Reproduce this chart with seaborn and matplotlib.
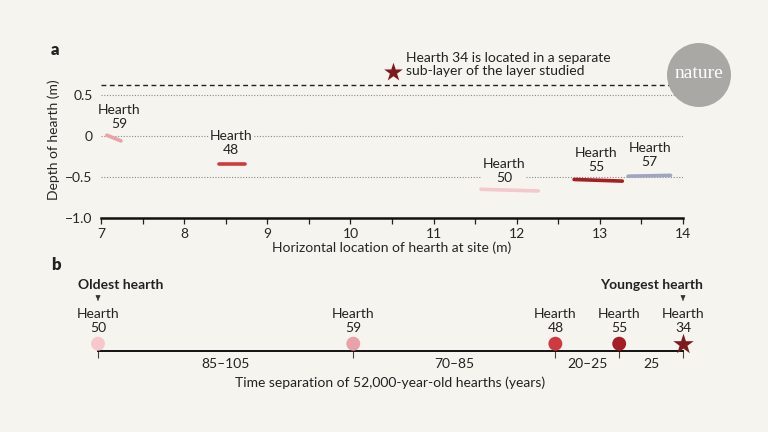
import numpy as np
import pandas as pd
import matplotlib
matplotlib.use('Agg')
import matplotlib.pyplot as plt
from matplotlib.patches import Ellipse
import seaborn as sns

# ---- data: panel a (hearth positions, m) ----
hearths = ['59', '48', '50', '55', '57']
x_start = [7.07, 8.42, 11.57, 12.69, 13.34]
x_end = [7.24, 8.73, 12.26, 13.27, 13.85]
y_start = [0.01, -0.34, -0.65, -0.53, -0.49]
y_end = [-0.06, -0.34, -0.67, -0.55, -0.48]
hearth34_xy = (10.51, 0.78)
sublayer_depth = 0.62
grid_depths = [0.5, 0.0, -0.5]

# ---- data: panel b (timeline) ----
order = ['50', '59', '48', '55', '34']
time_pos = [0, 96, 172, 196, 220]
gap_labels = ['85–105', '70–85', '20–25', '25']

palette = {'59': '#e9a1aa', '48': '#cf3a40', '50': '#f6c7cc',
           '55': '#a61e25', '57': '#a0a6bf', '34': '#7d1a1c'}

BG = '#f6f4ee'
sns.set_theme(style='white')
plt.rcParams['font.family'] = ['Lato', 'DejaVu Sans']
plt.rcParams['axes.facecolor'] = BG
plt.rcParams['figure.facecolor'] = BG
plt.rcParams['text.color'] = '#222222'
FS = 10

fig = plt.figure(figsize=(7.68, 4.32), dpi=100)

# ================= panel a =================
ax = fig.add_axes([101 / 768, 1 - 218 / 432, 582 / 768, 155.8 / 432])
ax.set_facecolor(BG)

rows = []
for h, xs, xe, ys, ye in zip(hearths, x_start, x_end, y_start, y_end):
    rows.append({'hearth': h, 'x': xs, 'y': ys})
    rows.append({'hearth': h, 'x': xe, 'y': ye})
seg = pd.DataFrame(rows)

for d in grid_depths:
    ax.axhline(d, color='#8a8a8a', lw=0.8, ls=(0, (1, 1.5)), zorder=1)
ax.axhline(sublayer_depth, color='#222222', lw=1.0, ls=(0, (3.5, 2.5)), zorder=1)

sns.lineplot(data=seg, x='x', y='y', hue='hearth', palette=palette,
             estimator=None, sort=False, lw=2.6, legend=False, ax=ax, zorder=3)

label_pos = {'59': (7.22, 0.07), '48': (8.56, -0.245), '50': (11.85, -0.58),
             '55': (12.96, -0.457), '57': (13.6, -0.39)}
for h in hearths:
    lx, ly = label_pos[h]
    ax.text(lx, ly, f'Hearth\n{h}', ha='center', va='bottom', fontsize=FS,
            linespacing=1.2, zorder=4,
            bbox=dict(boxstyle='square,pad=0.05', fc=BG, ec='none'))

ax.scatter([hearth34_xy[0]], [hearth34_xy[1]], marker='*', s=200,
           color=palette['34'], clip_on=False, zorder=4, linewidths=0)
ax.text(10.67, 0.87, 'Hearth 34 is located in a separate\nsub-layer of the layer studied',
        ha='left', va='center', fontsize=FS, linespacing=1.15, clip_on=False)

ax.set_xlim(7, 14)
ax.set_ylim(-1.0, 0.9)
ax.set_xticks(np.arange(7, 14.01, 0.5))
ax.set_xticklabels([f'{v:g}' if v == int(v) else '' for v in np.arange(7, 14.01, 0.5)],
                   fontsize=FS)
ax.set_yticks([-1.0, -0.5, 0, 0.5])
ax.set_yticklabels(['−1.0', '−0.5', '0', '0.5'], fontsize=FS)
ax.tick_params(axis='x', direction='out', length=4, width=0.9, color='#222222',
               pad=3, bottom=True)
ax.tick_params(axis='y', length=0, pad=6)
for s in ['top', 'right', 'left']:
    ax.spines[s].set_visible(False)
ax.spines['bottom'].set_linewidth(1.8)
ax.spines['bottom'].set_color('#111111')
ax.set_xlabel('Horizontal location of hearth at site (m)', fontsize=FS, labelpad=1)
ax.set_ylabel('Depth of hearth (m)', fontsize=FS, labelpad=4)

# ================= panel b =================
ax2 = fig.add_axes([98 / 768, 1 - 400 / 432, 585 / 768, 140 / 432])
ax2.set_facecolor('none')
ax2.set_xlim(0, 220)
ax2.set_ylim(-49, 91)

tl = pd.DataFrame({'hearth': order, 'pos': time_pos,
                   'y': [7.3] * len(order),
                   'kind': ['dot', 'dot', 'dot', 'dot', 'star']})
sns.scatterplot(data=tl[tl['kind'] == 'dot'], x='pos', y='y', hue='hearth',
                palette=palette, s=100, linewidth=0, legend=False, ax=ax2,
                clip_on=False, zorder=3)
sns.scatterplot(data=tl[tl['kind'] == 'star'], x='pos', y='y', hue='hearth',
                palette=palette, marker='*', s=240, linewidth=0, legend=False,
                ax=ax2, clip_on=False, zorder=3)

for h, p in zip(order, time_pos):
    ax2.text(p, 17.5, f'Hearth\n{h}', ha='center', va='bottom', fontsize=FS,
             linespacing=1.2)

for i, g in enumerate(gap_labels):
    mid = (time_pos[i] + time_pos[i + 1]) / 2
    ax2.text(mid, -13.5, g, ha='center', va='center', fontsize=FS)

ax2.text(110, -32, 'Time separation of 52,000-year-old hearths (years)',
         ha='center', va='center', fontsize=FS)

ax2.text(-7.4, 66, 'Oldest hearth', ha='left', va='center', fontsize=FS,
         fontweight='bold', clip_on=False)
ax2.text(227.5, 66, 'Youngest hearth', ha='right', va='center', fontsize=FS,
         fontweight='bold', clip_on=False)
for p in [time_pos[0], time_pos[-1]]:
    ax2.annotate('', xy=(p, 47.5), xytext=(p, 54),
                 arrowprops=dict(arrowstyle='-|>,head_length=0.25,head_width=0.12',
                                 color='#333333', lw=0.6))

ax2.spines['bottom'].set_position(('data', 0))
ax2.spines['bottom'].set_linewidth(1.4)
ax2.spines['bottom'].set_color('#111111')
for s in ['top', 'right', 'left']:
    ax2.spines[s].set_visible(False)
ax2.set_xticks(time_pos)
ax2.set_xticklabels([])
ax2.set_yticks([])
ax2.tick_params(axis='x', direction='out', length=5, width=0.8, color='#444444',
                bottom=True)
ax2.set_xlabel('')
ax2.set_ylabel('')

# panel letters
fig.text(51 / 768, 1 - 50 / 432, 'a', fontsize=12, fontweight='heavy', va='center', ha='left')
fig.text(51 / 768, 1 - 265 / 432, 'b', fontsize=12, fontweight='heavy', va='center', ha='left')

# nature logo
fig.patches.append(Ellipse((699 / 768, 1 - 75 / 432), 64 / 768, 64 / 432,
                           transform=fig.transFigure, fc='#a9a8a4', ec='none', zorder=5))
fig.text(699 / 768, 1 - 74 / 432, 'nature', color='white', fontsize=14,
         family='Liberation Serif', ha='center', va='center', zorder=6)

fig.savefig('out.png', dpi=100, facecolor=BG)
